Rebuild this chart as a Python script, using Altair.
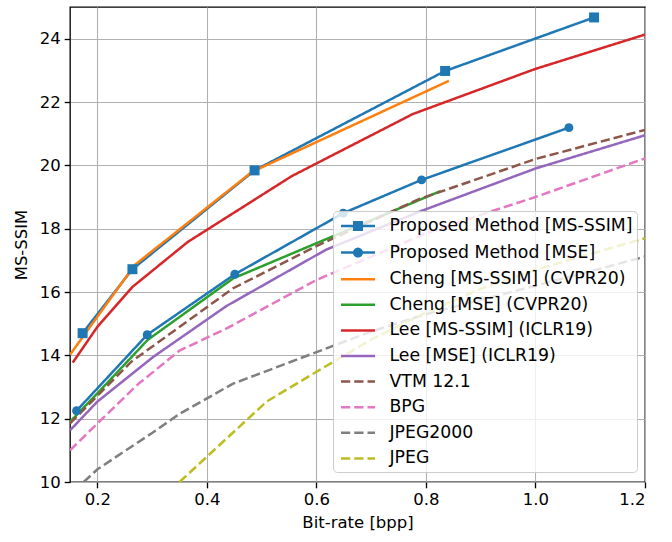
import altair as alt
import pandas as pd

FONT = "DejaVu Sans"

series = [
    "Proposed Method [MS-SSIM]",
    "Proposed Method [MSE]",
    "Cheng [MS-SSIM] (CVPR20)",
    "Cheng [MSE] (CVPR20)",
    "Lee [MS-SSIM] (ICLR19)",
    "Lee [MSE] (ICLR19)",
    "VTM 12.1",
    "BPG",
    "JPEG2000",
    "JPEG",
]
colors = ["#1f77b4", "#1f77b4", "#ff7f0e", "#2ca02c", "#d62728",
          "#9467bd", "#8c564b", "#e377c2", "#7f7f7f", "#bcbd22"]
SOLID = [1, 0]
DASH = [9.25, 4]
dashes = [SOLID] * 6 + [DASH] * 4

# bit-rate (bpp) and MS-SSIM (dB)
prop_msssim_x = [0.173, 0.264, 0.487, 0.835, 1.107]
prop_msssim_y = [14.70, 16.72, 19.84, 22.98, 24.67]
prop_mse_x = [0.162, 0.291, 0.451, 0.649, 0.792, 1.061]
prop_mse_y = [12.25, 14.65, 16.56, 18.49, 19.54, 21.19]
cheng_msssim_x = [0.150, 0.268, 0.482, 0.842]
cheng_msssim_y = [14.02, 16.85, 19.79, 22.67]
cheng_mse_x = [0.150, 0.200, 0.292, 0.448, 0.600, 0.827]
cheng_mse_y = [11.90, 12.80, 14.49, 16.43, 17.54, 19.19]
lee_msssim_x = [0.155, 0.200, 0.264, 0.365, 0.555, 0.776, 0.999, 1.200]
lee_msssim_y = [13.77, 14.90, 16.16, 17.58, 19.66, 21.62, 23.04, 24.13]
lee_mse_x = [0.150, 0.200, 0.302, 0.436, 0.618, 0.787, 1.000, 1.200]
lee_mse_y = [11.63, 12.54, 13.95, 15.56, 17.34, 18.53, 19.90, 20.95]
vtm_x = [0.150, 0.262, 0.448, 0.600, 0.787, 1.000, 1.200]
vtm_y = [11.85, 13.80, 16.12, 17.45, 18.93, 20.20, 21.12]
bpg_x = [0.150, 0.200, 0.275, 0.350, 0.436, 0.600, 0.800, 0.920, 1.000, 1.200]
bpg_y = [11.00, 11.85, 13.10, 14.15, 14.85, 16.38, 17.85, 18.55, 19.00, 20.22]
j2k_x = [0.175, 0.200, 0.300, 0.350, 0.447, 0.600, 0.700, 0.800, 0.900, 1.000, 1.100, 1.200]
j2k_y = [10.00, 10.40, 11.55, 12.15, 13.10, 14.10, 14.75, 15.30, 15.75, 16.20, 16.65, 17.12]
jpeg_x = [0.350, 0.400, 0.509, 0.600, 0.700, 0.800, 0.900, 1.000, 1.100, 1.200]
jpeg_y = [10.00, 10.80, 12.54, 13.48, 14.50, 15.35, 16.10, 16.70, 17.20, 17.70]

xs = [prop_msssim_x, prop_mse_x, cheng_msssim_x, cheng_mse_x, lee_msssim_x,
      lee_mse_x, vtm_x, bpg_x, j2k_x, jpeg_x]
ys = [prop_msssim_y, prop_mse_y, cheng_msssim_y, cheng_mse_y, lee_msssim_y,
      lee_mse_y, vtm_y, bpg_y, j2k_y, jpeg_y]

x_ticks = [0.2, 0.4, 0.6, 0.8, 1.0, 1.2]
y_ticks = [10, 12, 14, 16, 18, 20, 22, 24]

rows = []
for i, (name, xv, yv) in enumerate(zip(series, xs, ys)):
    for j, (a, b) in enumerate(zip(xv, yv)):
        rows.append({"series": name, "order": i, "idx": j, "x": a, "y": b})
df = pd.DataFrame(rows)

# legend symbols (unit = 9 px): a horizontal stroke, plus a marker for the
# proposed methods
LINE = "M-1.89,0H1.89"
SQUARE = (LINE + "M-0.417,-0.417H0.417V0.417H-0.417Z"
          "M-0.417,-0.21H0.417M-0.417,0.21H0.417")
CIRCLE = (LINE + "M-0.417,0A0.417,0.417 0 1,0 0.417,0A0.417,0.417 0 1,0 -0.417,0Z"
          "M-0.15,0A0.15,0.15 0 1,0 0.15,0A0.15,0.15 0 1,0 -0.15,0Z")
shapes = [SQUARE, CIRCLE] + [LINE] * 8

xscale = alt.Scale(domain=[0.15, 1.2], nice=False, zero=False)
yscale = alt.Scale(domain=[10, 25], nice=False, zero=False)
cscale = alt.Scale(domain=series, range=colors)

X = alt.X("x:Q", scale=xscale, title="Bit-rate [bpp]",
          axis=alt.Axis(values=x_ticks, format=".1f"))
Y = alt.Y("y:Q", scale=yscale, title="MS-SSIM",
          axis=alt.Axis(values=y_ticks, format="d"))
C = alt.Color("series:N", scale=cscale, title=None, sort=series)

base = alt.Chart(df)

lines = base.mark_line(strokeWidth=2.5, clip=True).encode(
    x=X, y=Y, color=C,
    strokeDash=alt.StrokeDash("series:N", title=None, sort=series,
                              scale=alt.Scale(domain=series, range=dashes)),
    order="idx:Q",
)

squares = base.transform_filter(alt.datum.order == 0).mark_point(
    shape="square", filled=True, size=100, opacity=1).encode(x=X, y=Y, color=C)
circles = base.transform_filter(alt.datum.order == 1).mark_point(
    shape="circle", filled=True, size=80, opacity=1).encode(x=X, y=Y, color=C)

legend_layer = base.transform_filter(alt.datum.x < 0).mark_point(
    filled=True, opacity=1).encode(
    x=X, y=Y, color=C,
    shape=alt.Shape("series:N", title=None, sort=series,
                    scale=alt.Scale(domain=series, range=shapes)),
)

chart = alt.layer(lines, squares, circles, legend_layer).properties(
    width=575, height=475,
    autosize=alt.AutoSizeParams(type="none"),
    padding={"left": 70, "top": 7, "right": 27, "bottom": 60},
).configure_view(
    stroke="black", strokeWidth=1.33,
).configure_axis(
    domain=False,
    grid=True, gridColor="#b0b0b0", gridWidth=1.1,
    tickColor="black", tickSize=5.8, tickWidth=1.33,
    labelFont=FONT, labelFontSize=16.5, labelColor="black", labelPadding=4,
    titleFont=FONT, titleFontSize=16.5, titleColor="black", titleFontWeight="normal",
).configure_axisX(
    titlePadding=6,
).configure_axisY(
    titlePadding=10,
).configure_legend(
    orient="none", legendX=263, legendY=204,
    fillColor="rgba(255,255,255,0.8)", strokeColor="#cccccc", strokeWidth=1,
    cornerRadius=4, padding=4.5,
    labelFont=FONT, labelFontSize=17.3, labelColor="black", labelLimit=500,
    symbolOffset=10, labelOffset=21, rowPadding=6.6,
    symbolSize=324, symbolStrokeWidth=2.5, symbolOpacity=1,
)

chart.save("out.html", embed_options={"renderer": "svg", "actions": False})
